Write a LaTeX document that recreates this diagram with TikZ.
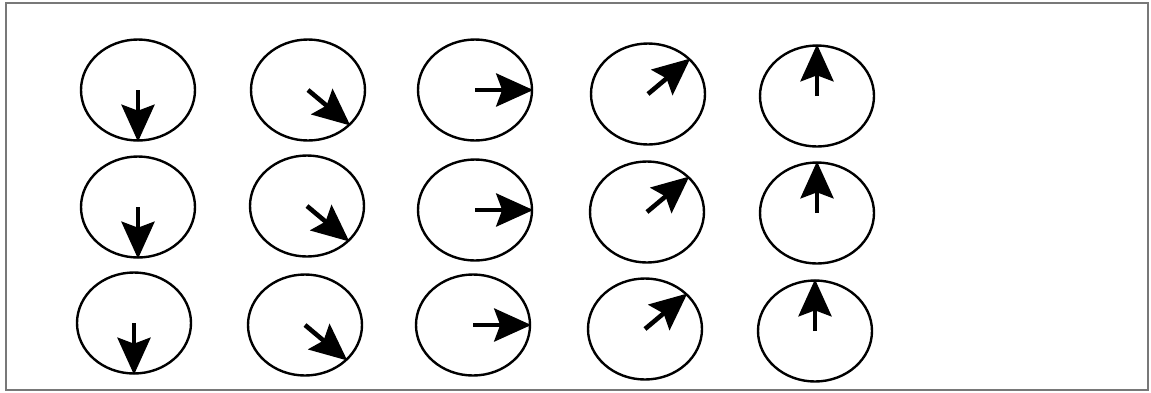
\documentclass[tikz,border=0pt]{standalone}
\usetikzlibrary{shapes.geometric,arrows.meta}
\definecolor{framegray}{RGB}{120,120,120}
\begin{document}
\begin{tikzpicture}[x=1pt,y=-1pt,
  spin/.style={draw=black, ellipse, line width=2.4pt, minimum width=114pt, minimum height=101pt, inner sep=0pt},
  dirarrow/.style={line width=4.6pt, -{Stealth[length=37pt,width=33pt,inset=6pt]}}]
\useasboundingbox (0,0) rectangle (1151,392);
\draw[framegray, line width=2pt] (6,3) rectangle (1148,390);
% row 1
\node[spin] (a1) at (138,90) {};
\node[spin] (a2) at (308,90) {};
\node[spin] (a3) at (475,90) {};
\node[spin] (a4) at (648,94) {};
\node[spin] (a5) at (817,96) {};
% row 2
\node[spin] (b1) at (138,207) {};
\node[spin] (b2) at (307,206) {};
\node[spin] (b3) at (475,210) {};
\node[spin] (b4) at (647,212) {};
\node[spin] (b5) at (817,213) {};
% row 3
\node[spin] (c1) at (134,323) {};
\node[spin] (c2) at (305,325) {};
\node[spin] (c3) at (473,325) {};
\node[spin] (c4) at (645,329) {};
\node[spin] (c5) at (815,331) {};
\foreach \r in {a,b,c}{
  \draw[dirarrow] (\r1.center) -- (\r1.-90);
  \draw[dirarrow] (\r2.center) -- (\r2.-40);
  \draw[dirarrow] (\r3.center) -- (\r3.0);
  \draw[dirarrow] (\r4.center) -- (\r4.40);
  \draw[dirarrow] (\r5.center) -- (\r5.90);
}
\end{tikzpicture}
\end{document}
